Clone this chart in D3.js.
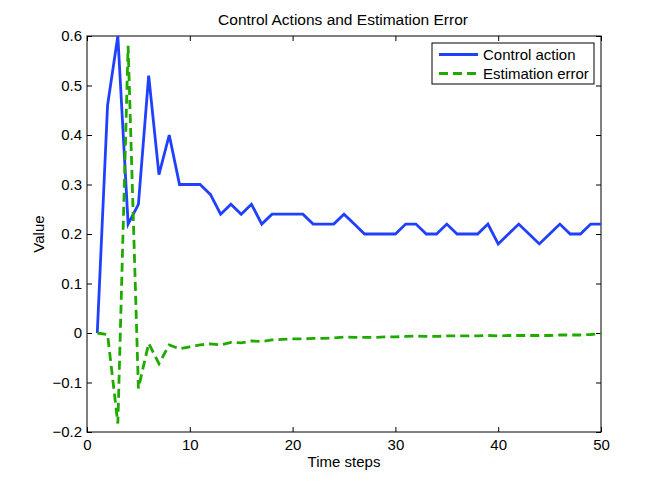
<!DOCTYPE html>
<html>
<head>
<meta charset="utf-8">
<script src="https://cdn.jsdelivr.net/npm/d3@7"></script>
<style>
  body { margin: 0; background: #fff; }
  text { font-family: "Liberation Sans", Arial, sans-serif; }
</style>
</head>
<body>
<script>
// Data
let steps = d3.range(1, 51);
let controlAction = [
    0, 0.46, 0.60, 0.22, 0.26, 0.52, 0.32, 0.40, 0.30, 0.30,
    0.30, 0.28, 0.24, 0.26, 0.24, 0.26, 0.22, 0.24, 0.24, 0.24,
    0.24, 0.22, 0.22, 0.22, 0.24, 0.22, 0.20, 0.20, 0.20, 0.20,
    0.22, 0.22, 0.20, 0.20, 0.22, 0.20, 0.20, 0.20, 0.22, 0.18,
    0.20, 0.22, 0.20, 0.18, 0.20, 0.22, 0.20, 0.20, 0.22, 0.22
];
let estimationError = [
    0, -0.003, -0.183, 0.58, -0.112, -0.021, -0.062, -0.024, -0.032, -0.028,
    -0.024, -0.022, -0.024, -0.019, -0.020, -0.016, -0.017, -0.014, -0.013, -0.012,
    -0.012, -0.011, -0.011, -0.010, -0.008, -0.009, -0.009, -0.009, -0.008, -0.008,
    -0.007, -0.006, -0.007, -0.007, -0.006, -0.006, -0.006, -0.006, -0.005, -0.006,
    -0.005, -0.005, -0.005, -0.005, -0.005, -0.004, -0.004, -0.004, -0.003, -0.001
];
let xTicks = [0, 10, 20, 30, 40, 50];
let yTicks = [-0.2, -0.1, 0, 0.1, 0.2, 0.3, 0.4, 0.5, 0.6];
let seriesNames = ["Control action", "Estimation error"];

let margin = {top: 36, left: 87, bottom: 54, right: 63};
let width = 664 - margin.left - margin.right;
let height = 486 - margin.top - margin.bottom;

let svg = d3.select("body").append("svg")
    .attr("width", 664)
    .attr("height", 486);

let g = svg.append("g")
    .attr("transform", `translate(${margin.left}, ${margin.top})`);

let x = d3.scaleLinear().domain([0, 50]).range([0, width]);
let y = d3.scaleLinear().domain([-0.2, 0.6]).range([height, 0]);

// Axes with inward ticks, box on all sides
function fmtY(d) { return d === 0 ? "0" : d3.format(".1f")(d); }

let axisStyle = function(sel) {
    sel.select(".domain").remove();
    sel.selectAll(".tick line").attr("stroke", "#000");
    sel.selectAll(".tick text")
        .attr("fill", "#000")
        .style("font-size", "15px");
};

g.append("g")
    .attr("transform", `translate(0, ${height})`)
    .call(d3.axisBottom(x).tickValues(xTicks).tickSizeInner(-5).tickSizeOuter(0).tickPadding(7))
    .call(axisStyle);

g.append("g")
    .call(d3.axisTop(x).tickValues(xTicks).tickSizeInner(-5).tickSizeOuter(0).tickFormat(""))
    .call(axisStyle);

g.append("g")
    .call(d3.axisLeft(y).tickValues(yTicks).tickSizeInner(-5).tickSizeOuter(0).tickPadding(5).tickFormat(fmtY))
    .call(axisStyle);

g.append("g")
    .attr("transform", `translate(${width}, 0)`)
    .call(d3.axisRight(y).tickValues(yTicks).tickSizeInner(-5).tickSizeOuter(0).tickFormat(""))
    .call(axisStyle);

g.append("rect")
    .attr("width", width)
    .attr("height", height)
    .attr("fill", "none")
    .attr("stroke", "#000")
    .attr("stroke-width", 1);

// Lines
let clip = svg.append("clipPath").attr("id", "plotclip")
    .append("rect").attr("x", -2).attr("y", -3).attr("width", width + 4).attr("height", height + 6);

let line = d3.line()
    .x(function(d) { return x(d[0]); })
    .y(function(d) { return y(d[1]); });

g.append("path")
    .datum(steps.map(function(s, i) { return [s, controlAction[i]]; }))
    .attr("d", line)
    .attr("fill", "none")
    .attr("stroke", "#2040ff")
    .attr("stroke-width", 2.8)
    .attr("stroke-linejoin", "miter")
    .attr("clip-path", "url(#plotclip)");

g.append("path")
    .datum(steps.map(function(s, i) { return [s, estimationError[i]]; }))
    .attr("d", line)
    .attr("fill", "none")
    .attr("stroke", "#20aa00")
    .attr("stroke-width", 2.8)
    .attr("stroke-dasharray", "9,5")
    .attr("clip-path", "url(#plotclip)");

// Title and axis labels
svg.append("text")
    .attr("x", 343)
    .attr("y", 25)
    .attr("text-anchor", "middle")
    .style("font-size", "15.5px")
    .text("Control Actions and Estimation Error");

svg.append("text")
    .attr("x", margin.left + width / 2)
    .attr("y", 467)
    .attr("text-anchor", "middle")
    .style("font-size", "15px")
    .text("Time steps");

svg.append("text")
    .attr("transform", `translate(44, ${margin.top + height / 2}) rotate(-90)`)
    .attr("text-anchor", "middle")
    .style("font-size", "15px")
    .text("Value");

// Legend
let legend = svg.append("g").attr("transform", "translate(432, 43)");
legend.append("rect")
    .attr("width", 162)
    .attr("height", 41)
    .attr("fill", "#fff")
    .attr("stroke", "#000");

let legendColors = ["#2040ff", "#20aa00"];
let legendDash = [null, "9,5"];
seriesNames.forEach(function(name, i) {
    let ly = 11.5 + i * 19;
    legend.append("line")
        .attr("x1", 7).attr("x2", 46)
        .attr("y1", ly).attr("y2", ly)
        .attr("stroke", legendColors[i])
        .attr("stroke-width", 2.8)
        .attr("stroke-dasharray", legendDash[i]);
    legend.append("text")
        .attr("x", 51)
        .attr("y", ly + 5)
        .style("font-size", "15px")
        .text(name);
});
</script>
</body>
</html>
